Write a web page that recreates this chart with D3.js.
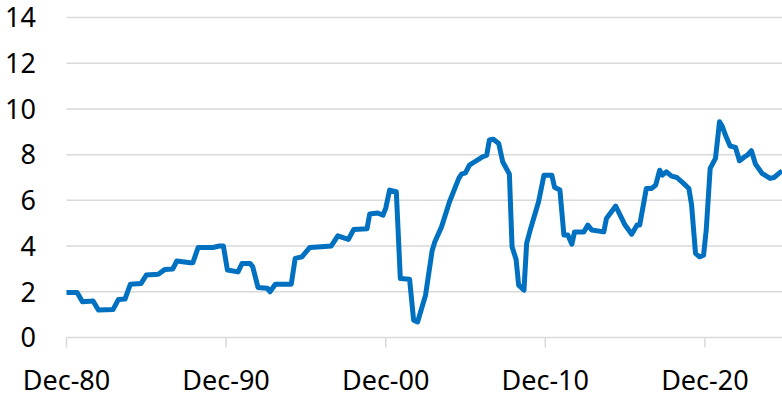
<!DOCTYPE html>
<html>
<head>
<meta charset="utf-8">
<script src="https://cdn.jsdelivr.net/npm/d3@7"></script>
<style>
  body { margin: 0; background: #fff; }
  svg text { font-family: "Noto Sans", "Open Sans", sans-serif; fill: #000; }
</style>
</head>
<body>
<div id="chart"></div>
<script>
var width = 782,
    height = 395;

// series (month, value)
var dates = ["1980-12","1981-08","1981-12","1982-08","1982-12","1983-11","1984-03","1984-08","1984-12","1985-08",
  "1985-12","1986-09","1987-02","1987-08","1987-11","1988-09","1988-11","1989-03","1990-02","1990-07",
  "1990-10","1991-01","1991-09","1991-12","1992-06","1992-08","1992-12","1993-07","1993-09","1994-01",
  "1995-01","1995-04","1995-09","1996-03","1996-09","1997-07","1997-12","1998-08","1998-12","1999-10",
  "1999-12","2000-06","2000-10","2000-12","2001-03","2001-08","2001-11","2002-06","2002-09","2002-12",
  "2003-06","2003-11","2004-01","2004-06","2004-12","2005-07","2005-09","2005-12","2006-03","2006-07",
  "2006-11","2007-01","2007-04","2007-06","2007-09","2008-01","2008-04","2008-09","2008-11","2009-02",
  "2009-04","2009-08","2009-10","2010-01","2010-07","2010-11","2011-05","2011-07","2011-11","2012-02",
  "2012-05","2012-08","2012-10","2013-05","2013-08","2013-11","2014-08","2014-10","2015-05","2015-12",
  "2016-05","2016-09","2016-11","2017-04","2017-08","2017-11","2018-02","2018-04","2018-07","2018-11",
  "2019-03","2019-08","2019-12","2020-02","2020-05","2020-08","2020-11","2021-01","2021-04","2021-08",
  "2021-11","2022-01","2022-04","2022-07","2022-11","2023-02","2023-06","2023-08","2023-11","2024-02",
  "2024-07","2025-01","2025-04","2025-10"];
var values = [1.97,1.97,1.56,1.6,1.2,1.22,1.66,1.68,2.33,2.36,
  2.73,2.77,2.98,3.0,3.35,3.27,3.27,3.94,3.94,4.0,
  4.0,2.95,2.87,3.24,3.24,3.1,2.19,2.15,2.0,2.33,
  2.33,3.46,3.53,3.94,3.96,4.0,4.45,4.29,4.73,4.76,
  5.4,5.45,5.35,5.65,6.45,6.38,2.58,2.55,0.76,0.68,
  1.85,3.82,4.19,4.84,5.94,6.96,7.15,7.2,7.54,7.69,
  7.84,7.91,7.98,8.64,8.67,8.49,7.69,7.15,3.97,3.42,
  2.29,2.07,4.12,4.77,5.94,7.1,7.1,6.57,6.45,4.48,
  4.48,4.08,4.62,4.62,4.92,4.7,4.62,5.21,5.75,4.92,
  4.52,4.92,4.92,6.52,6.52,6.67,7.32,7.1,7.25,7.06,
  7.0,6.74,6.52,5.79,3.68,3.53,3.6,4.7,7.4,7.84,
  9.44,9.25,8.78,8.38,8.32,7.73,7.91,7.98,8.17,7.59,
  7.18,6.96,7.0,7.29];

// axis ticks
var yTicks = [0, 2, 4, 6, 8, 10, 12, 14];
var xTickDates = ["1980-12","1990-12","2000-12","2010-12","2020-12"];
var xTickLabels = ["Dec-80","Dec-90","Dec-00","Dec-10","Dec-20"];

var parseMonth = d3.timeParse("%Y-%m");
var data = dates.map(function (d, i) { return { date: parseMonth(d), value: values[i] }; });

var svg = d3.select("#chart").append("svg")
    .attr("width", width)
    .attr("height", height);

var x = d3.scaleTime()
    .domain([parseMonth("1980-12"), parseMonth("2025-10")])
    .range([66.5, 782]);

var y = d3.scaleLinear()
    .domain([0, 14])
    .range([337.5, 17.5]);

// horizontal gridlines
svg.append("g")
    .selectAll("line")
    .data(yTicks)
    .enter().append("line")
    .attr("x1", x.range()[0])
    .attr("x2", x.range()[1])
    .attr("y1", function (d) { return y(d); })
    .attr("y2", function (d) { return y(d); })
    .attr("stroke", "#d9d9d9")
    .attr("stroke-width", 1.5);

// y labels
svg.append("g")
    .selectAll("text")
    .data(yTicks)
    .enter().append("text")
    .attr("x", 36)
    .attr("y", function (d) { return y(d); })
    .attr("dy", "0.36em")
    .attr("text-anchor", "end")
    .style("font-size", "27px")
    .text(function (d) { return d; });

// x axis tick marks and labels
var xt = svg.append("g")
    .selectAll("g")
    .data(xTickDates)
    .enter().append("g")
    .attr("transform", function (d) { return "translate(" + x(parseMonth(d)) + ",0)"; });

xt.append("line")
    .attr("y1", y(0))
    .attr("y2", y(0) + 10)
    .attr("stroke", "#d9d9d9")
    .attr("stroke-width", 1.5);

xt.append("text")
    .attr("y", 390)
    .attr("text-anchor", "middle")
    .style("font-size", "27px")
    .text(function (d, i) { return xTickLabels[i]; });

// the series
var line = d3.line()
    .x(function (d) { return x(d.date); })
    .y(function (d) { return y(d.value); });

svg.append("path")
    .datum(data)
    .attr("d", line)
    .attr("fill", "none")
    .attr("stroke", "#0070C0")
    .attr("stroke-width", 5)
    .attr("stroke-linejoin", "round")
    .attr("stroke-linecap", "butt");
</script>
</body>
</html>
